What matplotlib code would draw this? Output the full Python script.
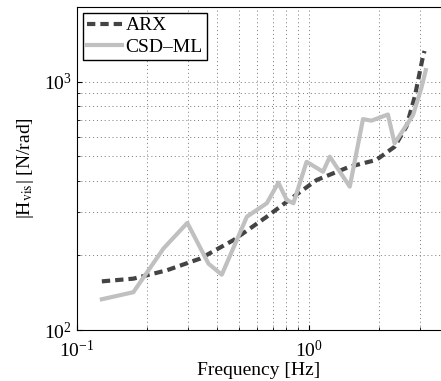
import numpy as np
import matplotlib
matplotlib.use("Agg")
import matplotlib.pyplot as plt

plt.rcParams['font.family'] = ['Liberation Serif', 'DejaVu Serif']
plt.rcParams['mathtext.fontset'] = 'stix'

# ARX model (smooth)
arx_f = [0.128, 0.175, 0.244, 0.340, 0.472, 0.658, 0.857, 1.08, 1.50, 1.95, 2.34, 2.63, 2.86, 3.10, 3.15]
arx_h = [157, 161, 174, 194, 230, 286, 344, 402, 455, 484, 547, 659, 871, 1262, 1330]

# CSD-ML estimate
csd_f = [0.128, 0.175, 0.236, 0.299, 0.369, 0.421, 0.540, 0.658, 0.738, 0.802, 0.857,
         0.977, 1.15, 1.23, 1.50, 1.71, 1.86, 2.19, 2.34, 2.81, 3.05, 3.19]
csd_h = [133, 142, 213, 270, 185, 167, 286, 324, 392, 334, 324,
         476, 434, 499, 378, 707, 697, 738, 565, 734, 940, 1114]

fig = plt.figure(figsize=(4.41, 3.81), dpi=100)
ax = fig.add_axes([77 / 441, 1 - 330 / 381, 1 - 77 / 441, (330 - 7) / 381])

ax.loglog(arx_f, arx_h, '--', color='#444444', lw=3, dashes=(2, 1.2), label='ARX')
ax.loglog(csd_f, csd_h, '-', color='#c0c0c0', lw=3, label='CSD\u2013ML')

ax.set_xlim(0.1, 3.71)
ax.set_ylim(100, 2000)
ax.grid(True, which='both', linestyle=(0, (1, 3)), color='#777777', lw=0.7)
ax.tick_params(which='both', direction='in', labelsize=14)
ax.tick_params(axis='x', pad=7)
ax.spines['right'].set_visible(False)

ax.set_xlabel('Frequency [Hz]', fontsize=14, labelpad=1)
ax.set_ylabel(r'|H$_{\mathrm{vis}}$| [N/rad]', fontsize=14, labelpad=6)

leg = ax.legend(loc='upper left', fontsize=14, fancybox=False, framealpha=1,
                edgecolor='black', borderaxespad=0.3, handlelength=1.8,
                handletextpad=0.2, borderpad=0.2, labelspacing=0.2)
leg.get_frame().set_linewidth(1.0)

fig.savefig('out.png', dpi=100)
